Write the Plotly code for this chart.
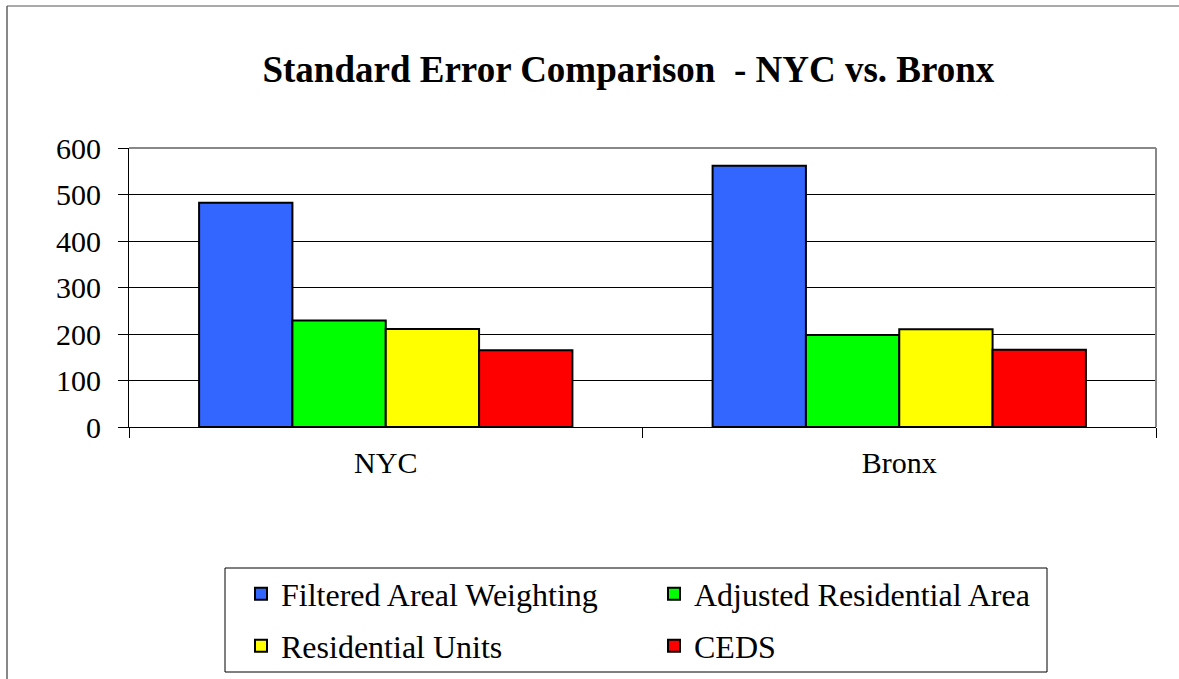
import plotly.graph_objects as go

categories = ["NYC", "Bronx"]
series_names = ["Filtered Areal Weighting", "Adjusted Residential Area", "Residential Units", "CEDS"]
filtered_areal = [482, 562]
adjusted_res_area = [229, 198]
residential_units = [211, 210]
ceds = [165, 166]
colors = ["#3366FF", "#00FF00", "#FFFF00", "#FF0000"]
legend_rows = ["legend", "legend", "legend2", "legend2"]

values = [filtered_areal, adjusted_res_area, residential_units, ceds]

SERIF = "Liberation Serif"
W, H = 1179, 679

fig = go.Figure()
for name, vals, col, lg in zip(series_names, values, colors, legend_rows):
    fig.add_trace(go.Bar(
        x=categories, y=vals, name=name, legend=lg,
        marker=dict(color=col, line=dict(color="black", width=2)),
    ))

legend_common = dict(
    orientation="h", xanchor="left", xref="container", yanchor="middle", yref="container",
    font=dict(family=SERIF, size=32, color="black"),
    borderwidth=0, bgcolor="rgba(0,0,0,0)",
    entrywidth=368, entrywidthmode="pixels", traceorder="normal",
)

fig.update_layout(
    width=W, height=H,
    paper_bgcolor="white", plot_bgcolor="white",
    margin=dict(l=129, r=23, t=148, b=252, autoexpand=False),
    barmode="group", bargap=0.273, bargroupgap=0,
    title=dict(
        text="<b>Standard Error Comparison\u00a0 - NYC vs. Bronx</b>",
        x=0.533, xref="container", xanchor="center",
        y=1 - 69 / H, yref="container", yanchor="middle",
        font=dict(family=SERIF, size=37, color="black"),
    ),
    showlegend=True,
    legend=dict(x=241 / W, y=1 - 594 / H, **legend_common),
    legend2=dict(x=241 / W, y=1 - 646 / H, **legend_common),
    xaxis=dict(
        showline=True, linecolor="black", linewidth=1,
        ticks="outside", tickson="boundaries", ticklen=10, tickcolor="black",
        tickfont=dict(family=SERIF, size=30, color="black"),
        ticklabelstandoff=9,
        showgrid=False, zeroline=False,
    ),
    yaxis=dict(
        range=[0, 600], dtick=100, tick0=0,
        showline=True, linecolor="black", linewidth=1,
        ticks="outside", ticklen=10, tickcolor="black",
        tickfont=dict(family=SERIF, size=30, color="black"),
        ticklabelstandoff=11,
        showgrid=True, gridcolor="black", gridwidth=1,
        zeroline=False,
    ),
)

# plot-area border (top and right, gray)
fig.add_shape(type="line", xref="paper", yref="paper", x0=0, x1=1, y0=1, y1=1,
              line=dict(color="#888888", width=2), layer="above")
fig.add_shape(type="line", xref="paper", yref="paper", x0=1, x1=1, y0=0, y1=1,
              line=dict(color="#888888", width=2), layer="above")
# legend box
fig.add_shape(type="rect", xref="paper", yref="paper",
              x0=(225 - 129) / 1027, x1=(1047 - 129) / 1027,
              y0=(427 - 672) / 279, y1=(427 - 568) / 279,
              line=dict(color="black", width=1), fillcolor="rgba(0,0,0,0)")
# outer chart border
fig.add_shape(type="line", xref="paper", yref="paper",
              x0=(7 - 129) / 1027, x1=(7 - 129) / 1027, y0=-1.0, y1=(427 - 6) / 279,
              line=dict(color="#888888", width=2))
fig.add_shape(type="line", xref="paper", yref="paper",
              x0=(7 - 129) / 1027, x1=1.1, y0=(427 - 6) / 279, y1=(427 - 6) / 279,
              line=dict(color="#555555", width=1))

fig.write_html("out.html", post_script="document.body.style.margin='0';",
               config={"displayModeBar": False})
